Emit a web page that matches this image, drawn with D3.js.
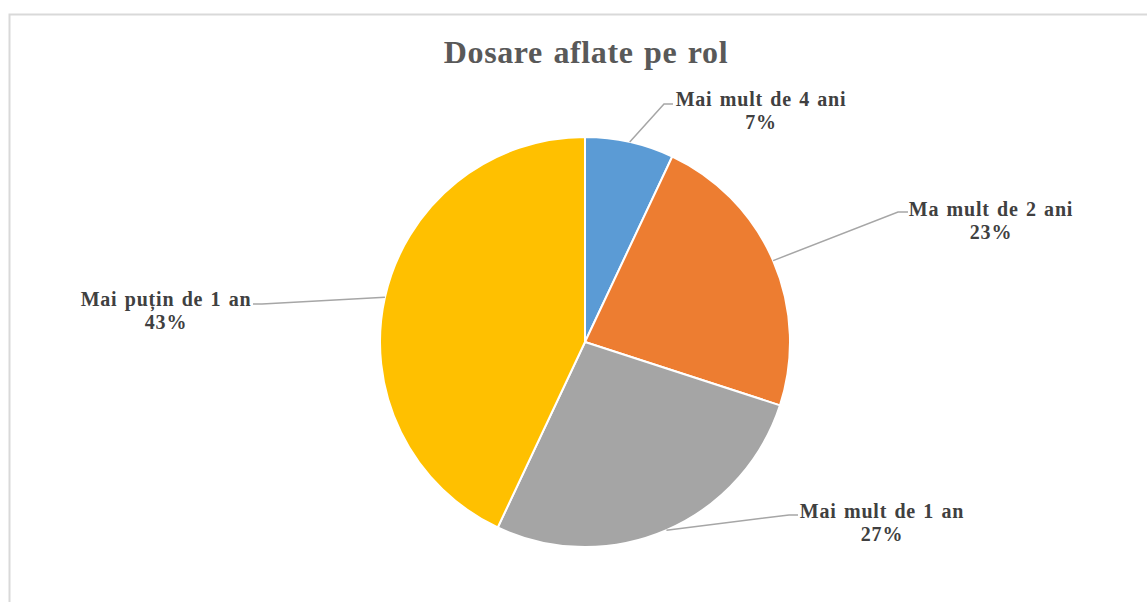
<!DOCTYPE html>
<html><head><meta charset="utf-8">
<script src="https://cdn.jsdelivr.net/npm/d3@7"></script>
<style>body{margin:0;background:#fff}svg{display:block}</style>
</head><body>
<svg id="c" width="1147" height="602"></svg>
<script>
const categories = ["Mai mult de 4 ani", "Ma mult de 2 ani", "Mai mult de 1 an", "Mai puțin de 1 an"];
const values = [7, 23, 27, 43];
const percentLabels = ["7%", "23%", "27%", "43%"];
const colors = ["#5B9BD5", "#ED7D31", "#A5A5A5", "#FFC000"];
// label layout: text center x, first baseline y, elbow point, end x of short horizontal
const labelPos = [
  {x: 761, y: 106, ex: 664, ey: 104, hx: 673},
  {x: 991, y: 216, ex: 898, ey: 212, hx: 908},
  {x: 882, y: 518, ex: 789, ey: 515, hx: 798},
  {x: 166, y: 306, ex: 262, ey: 304, hx: 253}
];

const svg = d3.select("#c");
const W = 1147, H = 602;
svg.append("rect").attr("x", 9.5).attr("y", 14.5).attr("width", W).attr("height", H)
  .attr("fill", "#fff").attr("stroke", "#d9d9d9").attr("stroke-width", 2);

svg.append("text").attr("x", 586).attr("y", 63).attr("text-anchor", "middle")
  .attr("font-family", "Liberation Serif, Times New Roman, serif").attr("font-weight", "bold")
  .attr("font-size", 32).attr("letter-spacing", 0.6).attr("word-spacing", 2)
  .attr("fill", "#595959").text("Dosare aflate pe rol");

const cx = 585, cy = 342, R = 205;
const pie = d3.pie().sort(null).value(d => d)(values);
const arc = d3.arc().innerRadius(0).outerRadius(R);
const g = svg.append("g").attr("transform", `translate(${cx},${cy})`);
g.selectAll("path").data(pie).join("path")
  .attr("d", arc).attr("fill", (d, i) => colors[i])
  .attr("stroke", "#fff").attr("stroke-width", 2).attr("stroke-linejoin", "round");

pie.forEach((d, i) => {
  const a = (d.startAngle + d.endAngle) / 2;
  const px = cx + R * Math.sin(a), py = cy - R * Math.cos(a);
  const L = labelPos[i];
  svg.append("polyline")
    .attr("points", `${px},${py} ${L.ex},${L.ey} ${L.hx},${L.ey}`)
    .attr("fill", "none").attr("stroke", "#a6a6a6").attr("stroke-width", 1.5);
  const t = svg.append("text").attr("text-anchor", "middle")
    .attr("font-family", "Liberation Serif, Times New Roman, serif").attr("font-weight", "bold")
    .attr("font-size", 20).attr("letter-spacing", 0.8).attr("word-spacing", 1.5)
    .attr("fill", "#404040");
  t.append("tspan").attr("x", L.x).attr("y", L.y).text(categories[i]);
  t.append("tspan").attr("x", L.x).attr("y", L.y + 23).text(percentLabels[i]);
});
</script>
</body></html>
